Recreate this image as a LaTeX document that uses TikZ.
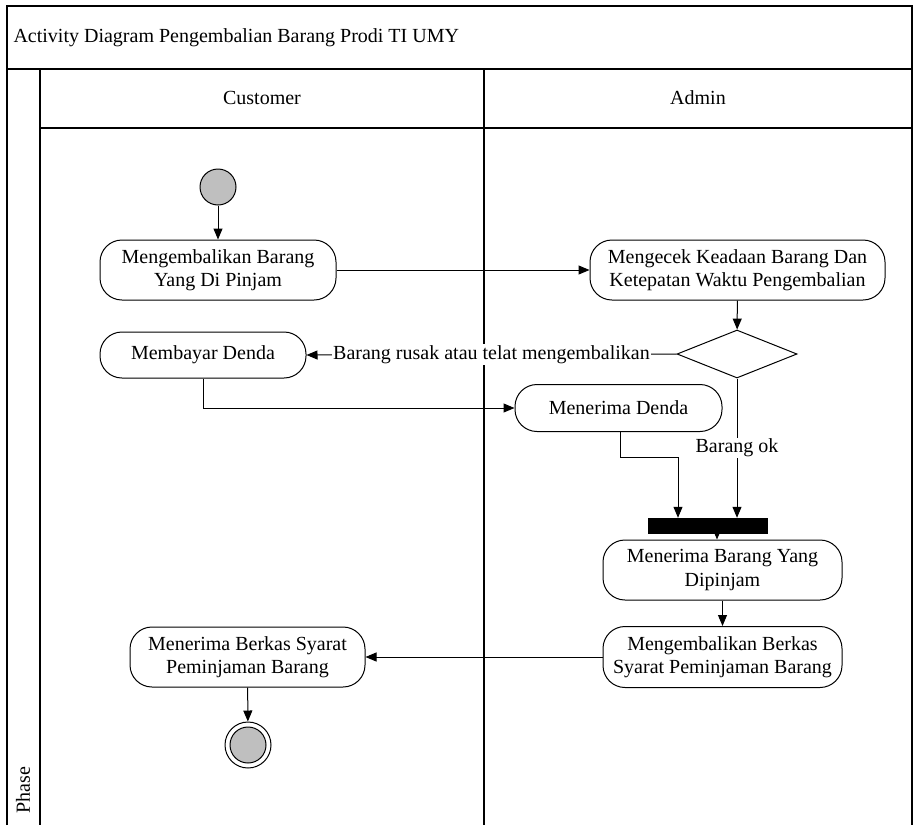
\documentclass[tikz,border=0pt]{standalone}
\usepackage{fontspec}
\setmainfont{Liberation Serif}
\usetikzlibrary{arrows.meta,shapes.geometric}

\tikzset{
  base/.style={font=\fontsize{20}{23.5}\selectfont},
  frame/.style={line width=1.1pt, draw=black},
  action/.style={base, draw=black, line width=1pt, rectangle, rounded corners=22pt,
    align=center, inner sep=0pt, fill=white},
  decision/.style={draw=black, line width=1pt, diamond, inner sep=0pt, fill=white},
  forkbar/.style={fill=black, draw=black, rectangle, inner sep=0pt},
  startnode/.style={circle, draw=black, line width=1pt, fill=black!25, minimum size=36pt, inner sep=0pt},
  flow/.style={line width=1pt, -{Triangle[length=11pt,width=9pt]}},
  guard/.style={base, fill=white, inner sep=1pt},
}

\begin{document}
\begin{tikzpicture}[x=1pt,y=-1pt]
\useasboundingbox (0,0) rectangle (918,825);

% swimlane frame
\draw[frame] (7,825) -- (7,6) -- (912,6) -- (912,825);
\draw[frame] (7,69) -- (912,69);
\draw[frame] (40,69) -- (40,825);
\draw[frame] (40,128) -- (912,128);
\draw[frame] (484,69) -- (484,825);

\node[base, anchor=west] (title) at (10,38) {Activity Diagram Pengembalian Barang Prodi TI UMY};
\node[base] (laneA) at (262,98) {Customer};
\node[base] (laneB) at (698,98) {Admin};
\node[base, rotate=90] (phase) at (23,790) {Phase};

% activities
\node[startnode] (start) at (218,187) {};
\node[action, minimum width=236pt, minimum height=60pt] (n1) at (218,270)
  {Mengembalikan Barang\\Yang Di Pinjam};
\node[action, minimum width=295pt, minimum height=60pt] (n2) at (737.5,270)
  {Mengecek Keadaan Barang Dan\\Ketepatan Waktu Pengembalian};
\node[decision, minimum width=120pt, minimum height=48pt] (dec) at (737,354) {};
\node[action, minimum width=206pt, minimum height=46pt] (pay) at (203,355) {Membayar Denda};
\node[action, minimum width=207pt, minimum height=47pt] (fine) at (618.5,408) {Menerima Denda};
\node[forkbar, minimum width=119pt, minimum height=15pt] (bar) at (707.5,525.5) {};
\node[action, minimum width=239pt, minimum height=60pt] (recv) at (722.5,570)
  {Menerima Barang Yang\\Dipinjam};
\node[action, minimum width=239pt, minimum height=61pt] (ret) at (722.5,657)
  {Mengembalikan Berkas\\Syarat Peminjaman Barang};
\node[action, minimum width=235pt, minimum height=60pt] (got) at (247.5,657)
  {Menerima Berkas Syarat\\Peminjaman Barang};
\node[circle, draw=black, line width=1pt, minimum size=46pt, inner sep=0pt] (final) at (248,745) {};
\node[startnode] (finalin) at (final.center) {};

% control flow
\draw[flow] (start) -- (n1);
\draw[flow] (n1) -- (n2);
\draw[flow] (n2) -- (dec);
\draw[flow] (dec.west) -- node[guard] {Barang rusak atau telat mengembalikan} (pay.east);
\draw[flow] (pay.south) |- (fine.west);
\draw[flow] ([xshift=1.5pt]fine.south) -- ++(0,25) -| ([xshift=-29.5pt]bar.north);
\draw[flow] (dec.south) -- node[guard, pos=0.5] {Barang ok} ([xshift=29.5pt]bar.north);
\draw[flow] ([xshift=9.5pt]bar.south) -- ([xshift=-5.5pt]recv.north);
\draw[flow] (recv) -- (ret);
\draw[flow] (ret) -- (got);
\draw[flow] (got) -- (final);
\end{tikzpicture}
\end{document}
